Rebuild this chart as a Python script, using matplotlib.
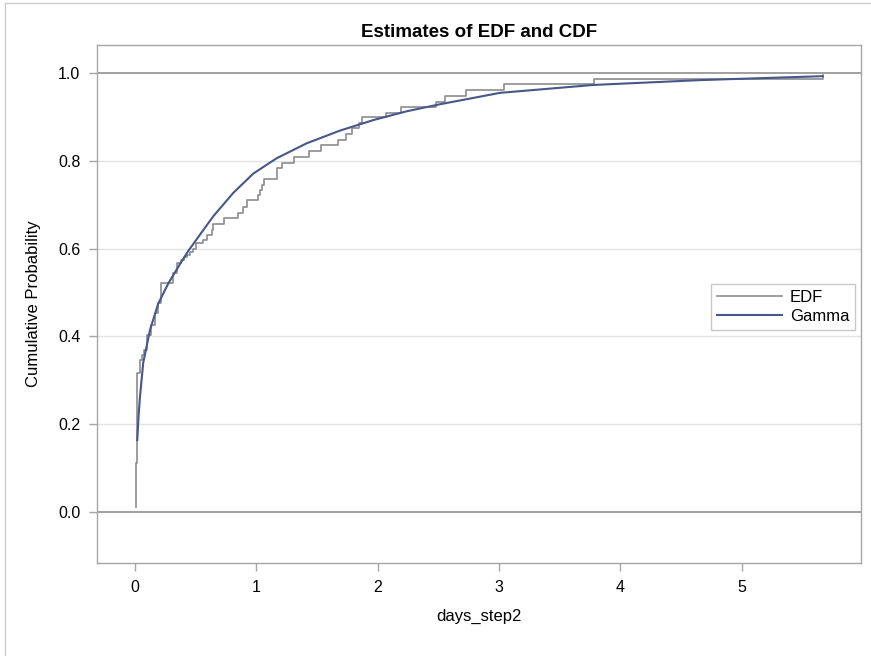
import matplotlib
matplotlib.use("Agg")
import matplotlib.pyplot as plt
from matplotlib.lines import Line2D

# ---- data ----
edf_x = [0.005, 0.008, 0.014, 0.041, 0.060, 0.077, 0.096, 0.132, 0.165, 0.190,
         0.212, 0.311, 0.344, 0.376, 0.404, 0.429, 0.453, 0.478, 0.503, 0.561,
         0.594, 0.635, 0.643, 0.734, 0.849, 0.891, 0.924, 1.013, 1.030, 1.046,
         1.063, 1.171, 1.212, 1.311, 1.435, 1.533, 1.673, 1.739, 1.789, 1.847,
         1.871, 2.069, 2.193, 2.481, 2.555, 2.729, 3.042, 3.784, 5.672]
edf_y = [0.011, 0.112, 0.317, 0.346, 0.358, 0.369, 0.403, 0.426, 0.453, 0.476,
         0.522, 0.544, 0.567, 0.574, 0.580, 0.585, 0.593, 0.600, 0.612, 0.620,
         0.631, 0.642, 0.656, 0.669, 0.682, 0.694, 0.711, 0.722, 0.733, 0.745,
         0.758, 0.783, 0.796, 0.809, 0.823, 0.836, 0.847, 0.861, 0.874, 0.886,
         0.899, 0.910, 0.923, 0.935, 0.948, 0.961, 0.975, 0.986, 0.996]

gamma_x = [0.019, 0.030, 0.041, 0.068, 0.124, 0.192, 0.275, 0.371, 0.44, 0.536,
           0.646, 0.81, 0.975, 1.168, 1.415, 1.69, 1.965, 2.24, 2.514, 3.009,
           3.778, 4.658, 5.67]
gamma_y = [0.164, 0.220, 0.262, 0.340, 0.415, 0.475, 0.521, 0.565, 0.595, 0.632,
           0.674, 0.727, 0.771, 0.806, 0.840, 0.869, 0.893, 0.913, 0.929, 0.955,
           0.973, 0.984, 0.993]

x_ticks = [0, 1, 2, 3, 4, 5]
y_ticks = [0.0, 0.2, 0.4, 0.6, 0.8, 1.0]
y_ticklabels = ["0.0", "0.2", "0.4", "0.6", "0.8", "1.0"]

title = "Estimates of EDF and CDF"
xlabel = "days_step2"
ylabel = "Cumulative Probability"
series_names = ["EDF", "Gamma"]

FONT = ["Liberation Sans", "DejaVu Sans"]
plt.rcParams["font.family"] = FONT

W, H = 871, 656
fig = plt.figure(figsize=(W / 100, H / 100), dpi=100)
ax = fig.add_axes([97 / W, 1 - 563 / H, (861 - 97) / W, (563 - 45) / H])

edf_col = "#8c8c8c"
gam_col = "#445694"
frame_col = "#a6a6a6"

ax.set_xlim(-0.313, 5.985)
ax.set_ylim(-0.116, 1.064)

for yv in [0.2, 0.4, 0.6, 0.8]:
    ax.axhline(yv, color="#e3e3e3", lw=1.0, zorder=0)
for yv in [0.0, 1.0]:
    ax.axhline(yv, color="#a0a0a0", lw=1.4, zorder=1)

ax.plot(edf_x, edf_y, drawstyle="steps-post", color=edf_col, lw=1.2, zorder=3)
ax.plot(gamma_x, gamma_y, color=gam_col, lw=1.5, zorder=4)

ax.set_xticks(x_ticks)
ax.set_xticklabels([str(v) for v in x_ticks])
ax.set_yticks(y_ticks)
ax.set_yticklabels(y_ticklabels)
ax.tick_params(axis="both", direction="out", length=6, width=1, color=frame_col,
               labelsize=11.5, labelcolor="black", pad=6)
for s in ax.spines.values():
    s.set_color(frame_col)
    s.set_linewidth(1.0)

ax.set_xlabel(xlabel, fontsize=12, labelpad=10)
ax.set_ylabel(ylabel, fontsize=12, labelpad=12)
ax.set_title(title, fontsize=13.5, fontweight="bold", pad=6)

handles = [Line2D([], [], color=edf_col, lw=1.2), Line2D([], [], color=gam_col, lw=1.5)]
leg = ax.legend(handles, series_names, loc="upper right", bbox_to_anchor=(0.9925, 0.5386),
                borderaxespad=0, fancybox=False, framealpha=1, edgecolor="#c8c8c8",
                fontsize=12, handlelength=3.9, borderpad=0.35, labelspacing=0.25,
                handletextpad=0.5)
leg.get_frame().set_linewidth(1.0)

# outer light-gray frame (left and top edges visible)
fig.add_artist(Line2D([4.5 / W, 4.5 / W], [0, 1 - 2.5 / H], color="#cccccc", lw=1,
                      transform=fig.transFigure))
fig.add_artist(Line2D([4.5 / W, 1], [1 - 2.5 / H, 1 - 2.5 / H], color="#cccccc", lw=1,
                      transform=fig.transFigure))

fig.savefig("out.png", dpi=100)
